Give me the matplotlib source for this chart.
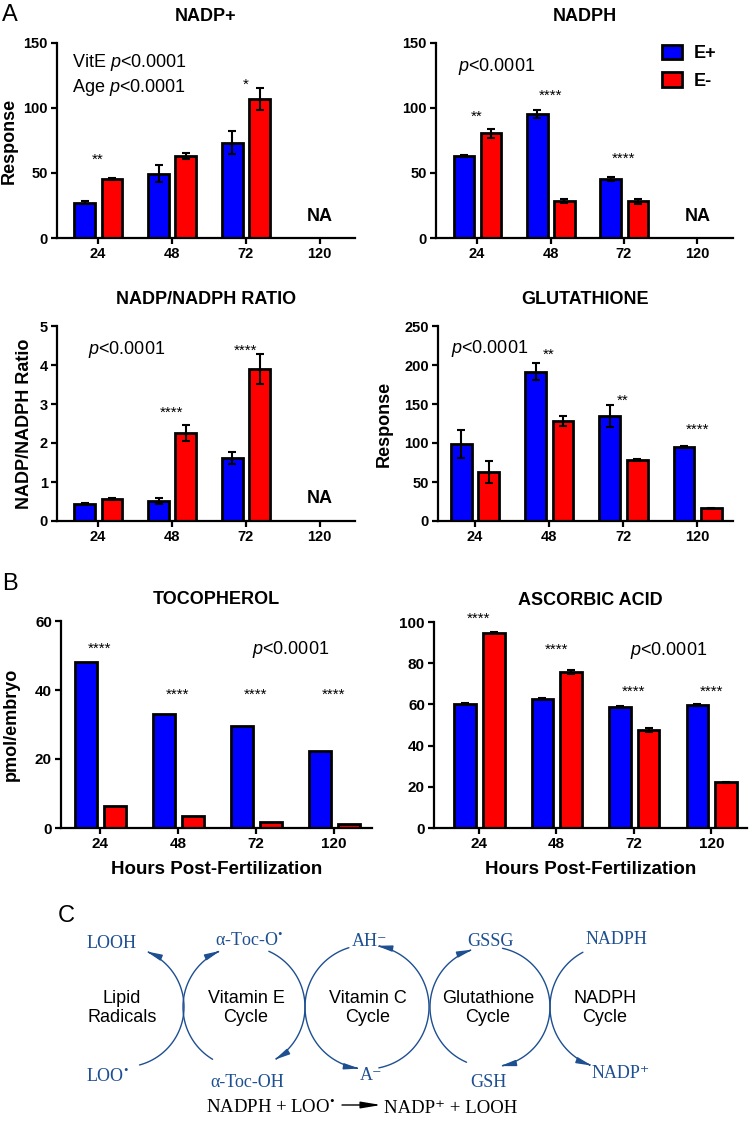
import numpy as np
import matplotlib
matplotlib.use("Agg")
import matplotlib.pyplot as plt
from matplotlib.patches import FancyArrowPatch, Patch
from matplotlib.path import Path

plt.rcParams['font.family'] = ['Liberation Sans', 'DejaVu Sans']
plt.rcParams['mathtext.fontset'] = 'custom'
plt.rcParams['mathtext.rm'] = 'Liberation Serif'
plt.rcParams['mathtext.it'] = 'Liberation Sans:italic'
plt.rcParams['mathtext.bf'] = 'Liberation Sans:bold'

# ---- data ----
hours = ['24', '48', '72', '120']

nadp_ep = [27.3, 49.3, 73.3]
nadp_ep_err = [1.5, 6.6, 9.0]
nadp_em = [45.2, 63.0, 107.0]
nadp_em_err = [0.6, 2.0, 8.4]
nadp_stars = [(0, '**', 64), (2, '*', 122)]

nadph_ep = [63.4, 95.3, 45.2]
nadph_ep_err = [0.8, 3.0, 1.5]
nadph_em = [80.5, 28.6, 28.1]
nadph_em_err = [3.5, 1.5, 2.0]
nadph_stars = [(0, '**', 97), (1, '****', 113), (2, '****', 65)]

ratio_ep = [0.43, 0.51, 1.61]
ratio_ep_err = [0.02, 0.08, 0.15]
ratio_em = [0.56, 2.25, 3.9]
ratio_em_err = [0.03, 0.2, 0.39]
ratio_stars = [(1, '****', 2.9), (2, '****', 4.5)]

gsh_ep = [98.5, 191.5, 134.4, 94.7]
gsh_ep_err = [18, 11, 14, 1.5]
gsh_em = [62.7, 128.4, 78.0, 16.2]
gsh_em_err = [14.5, 6.5, 1.5, 1.0]
gsh_stars = [(1, '**', 219), (2, '**', 161), (3, '****', 123)]

toco_ep = [48.1, 33.1, 29.5, 22.4]
toco_em = [6.5, 3.6, 1.8, 1.1]
toco_stars = [(0, '****', 53.4), (1, '****', 40.2), (2, '****', 40.2), (3, '****', 40.2)]

asc_ep = [60.4, 62.8, 58.7, 59.9]
asc_ep_err = [0.5, 0.3, 0.4, 0.5]
asc_em = [94.8, 75.7, 47.4, 22.2]
asc_em_err = [0.3, 1.0, 1.0, 0.3]
asc_stars = [(0, '****', 104), (1, '****', 89), (2, '****', 68.4), (3, '****', 68.4)]

BLUE = '#0000ff'
RED = '#ff0000'
DIAG = '#1d4f91'

W, H = 750, 1127
fig = plt.figure(figsize=(7.5, 11.27), dpi=100)


def px_axes(l, t, r, b):
    return fig.add_axes([l / W, 1 - b / H, (r - l) / W, (b - t) / H])


def bar_panel(ax, ep, ep_err, em, em_err, ylim, yticks, xlim, title, pad, fs):
    x = np.arange(len(ep))
    ax.bar(x - 0.18, ep, 0.28, color=BLUE, edgecolor='black', linewidth=2, zorder=2)
    ax.bar(x + 0.19, em, 0.28, color=RED, edgecolor='black', linewidth=2, zorder=2)
    ekw = dict(fmt='none', ecolor='black', elinewidth=1.5, capsize=3, capthick=1.5, zorder=3)
    if ep_err is not None:
        ax.errorbar(x - 0.18, ep, yerr=ep_err, **ekw)
        ax.errorbar(x + 0.19, em, yerr=em_err, **ekw)
    ax.set_xlim(xlim)
    ax.set_ylim(ylim)
    ax.set_xticks(range(len(hours)))
    ax.set_xticklabels(hours, fontweight='bold', fontsize=fs)
    ax.set_yticks(yticks)
    ax.set_yticklabels([str(v) for v in yticks], fontweight='bold', fontsize=fs)
    for s in ['top', 'right']:
        ax.spines[s].set_visible(False)
    for s in ['left', 'bottom']:
        ax.spines[s].set_linewidth(1.6)
    ax.tick_params(direction='out', length=4, width=1.6, pad=2.5)
    ax.set_title(title, fontsize=13, fontweight='bold', pad=pad)


def stars(ax, items):
    for i, lab, y in items:
        ax.annotate(lab, (i, y), xytext=(0, -6.5), textcoords='offset points',
                    ha='center', va='baseline', fontsize=11, annotation_clip=False)


# ---- panel A ----
ax1 = px_axes(57, 43, 355, 238)
bar_panel(ax1, nadp_ep, nadp_ep_err, nadp_em, nadp_em_err, (0, 150), [0, 50, 100, 150],
          (-0.554, 3.48), 'NADP+', 15.5, 10.5)
stars(ax1, nadp_stars)
ax1.text(3, 16.6, 'NA', ha='center', va='center', fontsize=13, fontweight='bold')
ax1.text(0.05, 0.90, 'VitE $\\it{p}$<0.0001', transform=ax1.transAxes, fontsize=13, va='center')
ax1.text(0.05, 0.77, 'Age $\\it{p}$<0.0001', transform=ax1.transAxes, fontsize=13, va='center')
ax1.set_ylabel('Response', fontsize=13, fontweight='bold')
ax1.yaxis.set_label_coords(-0.131, 0.5)

ax2 = px_axes(436, 43, 733, 238)
bar_panel(ax2, nadph_ep, nadph_ep_err, nadph_em, nadph_em_err, (0, 150), [0, 50, 100, 150],
          (-0.56, 3.485), 'NADPH', 15.5, 10.5)
stars(ax2, nadph_stars)
ax2.text(3, 16.6, 'NA', ha='center', va='center', fontsize=13, fontweight='bold')
ax2.text(0.074, 0.877, '$\\it{p}$<0.0001', transform=ax2.transAxes, fontsize=13, va='center')
handles = [Patch(facecolor=BLUE, edgecolor='black', linewidth=2, label='E+'),
           Patch(facecolor=RED, edgecolor='black', linewidth=2, label='E-')]
ax2.legend(handles=handles, loc='upper left', bbox_to_anchor=(0.76, 0.99), frameon=False,
           prop=dict(size=13, weight='bold'), handlelength=1.15, handleheight=0.85,
           handletextpad=0.6, labelspacing=0.55, borderpad=0, borderaxespad=0)

ax3 = px_axes(57, 326, 355, 521)
bar_panel(ax3, ratio_ep, ratio_ep_err, ratio_em, ratio_em_err, (0, 5), [0, 1, 2, 3, 4, 5],
          (-0.554, 3.48), 'NADP/NADPH RATIO', 15.5, 10.5)
stars(ax3, ratio_stars)
ax3.text(3, 0.58, 'NA', ha='center', va='center', fontsize=13, fontweight='bold')
ax3.text(0.104, 0.877, '$\\it{p}$<0.0001', transform=ax3.transAxes, fontsize=13, va='center')
ax3.set_ylabel('NADP/NADPH Ratio', fontsize=13, fontweight='bold')
ax3.yaxis.set_label_coords(-0.081, 0.5)

ax4 = px_axes(438, 326, 733, 521)
bar_panel(ax4, gsh_ep, gsh_ep_err, gsh_em, gsh_em_err, (0, 250), [0, 50, 100, 150, 200, 250],
          (-0.494, 3.48), 'GLUTATHIONE', 15.5, 10.5)
stars(ax4, gsh_stars)
ax4.text(0.044, 0.887, '$\\it{p}$<0.0001', transform=ax4.transAxes, fontsize=13, va='center')
ax4.set_ylabel('Response', fontsize=13, fontweight='bold')
ax4.yaxis.set_label_coords(-0.153, 0.5)

# ---- panel B ----
ax5 = px_axes(61, 621, 372, 828)
bar_panel(ax5, toco_ep, None, toco_em, None, (0, 60), [0, 20, 40, 60],
          (-0.5, 3.49), 'TOCOPHEROL', 12, 11)
stars(ax5, toco_stars)
ax5.text(0.614, 0.86, '$\\it{p}$<0.0001', transform=ax5.transAxes, fontsize=13, va='center')
ax5.set_ylabel('pmol/embryo', fontsize=13, fontweight='bold')
ax5.yaxis.set_label_coords(-0.132, 0.5)
ax5.set_xlabel('Hours Post-Fertilization', fontsize=13.5, fontweight='bold', labelpad=7)

ax6 = px_axes(434, 622, 747, 828)
bar_panel(ax6, asc_ep, asc_ep_err, asc_em, asc_em_err, (0, 100), [0, 20, 40, 60, 80, 100],
          (-0.58, 3.46), 'ASCORBIC ACID', 12, 11)
stars(ax6, asc_stars)
ax6.text(0.626, 0.864, '$\\it{p}$<0.0001', transform=ax6.transAxes, fontsize=13, va='center')
ax6.set_xlabel('Hours Post-Fertilization', fontsize=13.5, fontweight='bold', labelpad=7)

# ---- panel C: redox cycle diagram, drawn in figure pixel space ----
axc = fig.add_axes([0, 0, 1, 1], zorder=-1)
axc.set_xlim(0, W)
axc.set_ylim(H, 0)
axc.axis('off')

axc.text(2, 21, 'A', fontsize=17, va='baseline')
axc.text(2, 590, 'B', fontsize=17, va='baseline')
axc.text(58, 922, 'C', fontsize=17, va='baseline')

# arcs: centre x, centre y, radius, start angle, end angle (deg, y down); arrow at end
arcs = [(124, 1007, 60, 75, -68),
        (244, 1007, 61, 121, 247),
        (244, 1007, 61, -66, 60),
        (367, 1007, 62, 253, 97),
        (367, 1007, 62, 79, -81),
        (490, 1007, 60, 113, 253),
        (490, 1007, 60, -78, 80),
        (612, 1007, 62, 242, 109)]
for cx, cy, r, t0, t1 in arcs:
    t = np.radians(np.linspace(t0, t1, 80))
    verts = np.column_stack([cx + r * np.cos(t), cy + r * np.sin(t)])
    axc.add_patch(FancyArrowPatch(path=Path(verts), arrowstyle='-|>,head_length=0.9,head_width=0.18',
                                  mutation_scale=10, color=DIAG, lw=1.0))

serif = ['Liberation Serif', 'DejaVu Serif']
dot = '$^{\\mathrm{\u2022}}$'
top_labels = [('LOOH', 112, 948), ('α-Toc-O' + dot, 249, 946), ('AH\u207b', 370, 946),
              ('GSSG', 491, 946), ('NADPH', 616, 944)]
bottom_labels = [('LOO' + dot, 107, 1082), ('α-Toc-OH', 247, 1087), ('A\u207b', 371, 1080),
                 ('GSH', 488, 1087), ('NADP\u207a', 621, 1078)]
for lab, x, y in top_labels + bottom_labels:
    axc.text(x, y, lab, ha='center', va='baseline', fontsize=13, color=DIAG, family=serif)

cycle_names = [('Lipid\nRadicals', 122), ('Vitamin E\nCycle', 246), ('Vitamin C\nCycle', 368),
               ('Glutathione\nCycle', 488), ('NADPH\nCycle', 605)]
for lab, x in cycle_names:
    axc.text(x, 1008, lab, ha='center', va='center', fontsize=13, multialignment='center',
             linespacing=1.15)

axc.text(335, 1113, 'NADPH + LOO' + dot, ha='right', va='baseline', fontsize=13.5, family=serif)
axc.text(384, 1113, 'NADP\u207a + LOOH', ha='left', va='baseline', fontsize=13.5, family=serif)
axc.annotate('', xy=(381, 1105), xytext=(342, 1105),
             arrowprops=dict(arrowstyle='-|>,head_length=1.2,head_width=0.2', mutation_scale=10,
                             color='black', lw=1.0, shrinkA=0, shrinkB=0))

fig.savefig('out.png', dpi=100)
